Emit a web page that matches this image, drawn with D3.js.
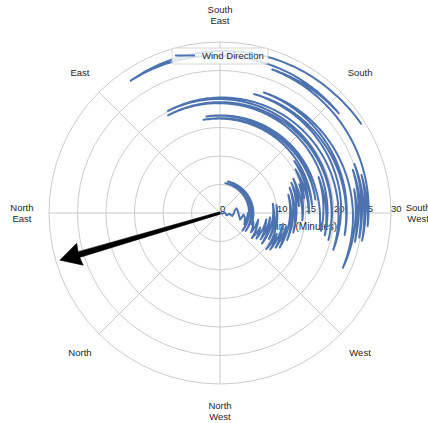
<!DOCTYPE html>
<html>
<head>
<meta charset="utf-8">
<script src="https://cdn.jsdelivr.net/npm/d3@7"></script>
<style>
  body { margin: 0; background: #fff; }
  svg { display: block; font-family: "Liberation Sans", Arial, sans-serif; }
</style>
</head>
<body>
<div id="chart"></div>
<script>
// time since start (minutes) -> radius, wind direction (polar angle in degrees) -> angle
const times = [
  0.0, 0.4, 0.8, 1.2, 1.6, 2.2, 2.6, 3.0, 3.3, 3.7, 4.1, 4.4, 4.7, 4.9,
  5.0, 5.3, 5.5, 5.7, 5.9,
  6.1, 6.4, 6.8, 7.1, 7.5, 7.8, 8.2, 8.5, 8.8, 9.1, 9.4, 9.7, 10.0, 10.3, 10.6,
  10.9, 11.2, 11.5, 11.8, 12.1, 12.4, 12.7, 13.0, 13.3, 13.6, 13.9, 14.2, 14.5, 14.8, 15.0,
  15.3, 15.6, 15.9, 16.2, 16.6, 16.9, 17.1, 17.3,
  17.6, 18.0, 18.4, 18.8, 19.4, 19.6, 20.1, 20.9, 21.3, 21.7, 22.2, 22.5, 23.6,
  23.9, 24.2, 24.5, 24.8, 25.1, 25.4, 25.7, 26.0, 26.3,
  26.8, 27.2, 27.6, 28.0, 28.6, 29.0, 29.3
];
const directions = [
  0, -15, 5, -20, -5, -14, 10, 16, -6, -18, -4, -9, -25, 0,
  -38, 80, -35, 76, -20,
  -15, -32, -10, -38, -20, -35, -8, -33, -5, -36, 10, -28, 8, -38, -20,
  -36, -10, -32, -12, -30, 15, -22, 20, -15, 23, 5, 25, -5, 20, 10,
  30, 0, 35, 5, 100, 8, 98, 15,
  -5, -10, 20, -12, 118, -14, 117, -18, 5, 74, -10, 70, -24,
  10, -12, 18, -10, 20, -11, 15, -5, 20,
  70, 40, 90, 124, 75, 45, 32
];

// arrow (overall wind direction)
const arrowDirection = 196.4;
const arrowLength = 29.3;

const radialTicks = [0, 5, 10, 15, 20, 25, 30];
const angleTicks = [0, 45, 90, 135, 180, 225, 270, 315];
const angleLabels = [
  ["South", "West"], ["South"], ["South", "East"], ["East"],
  ["North", "East"], ["North"], ["North", "West"], ["West"]
];
const seriesName = "Wind Direction";
const radialTitle = "Time (Minutes)";

const width = 428, height = 423;
const cx = 220, cy = 213, R = 171;
const textColor = "#262626", gridColor = "#cccccc", lineColor = "#4c72b0";

const svg = d3.select("#chart").append("svg")
  .attr("width", width)
  .attr("height", height);

const r = d3.scaleLinear().domain([0, 30]).range([0, R]);
const ang = d3.scaleLinear().domain([0, 360]).range([0, 2 * Math.PI]);

const pt = (deg, t) => [cx + r(t) * Math.cos(ang(deg)), cy - r(t) * Math.sin(ang(deg))];

// grid
const grid = svg.append("g").attr("fill", "none").attr("stroke", gridColor).attr("stroke-width", 1);
grid.selectAll("circle")
  .data(radialTicks.filter((d) => d > 0))
  .join("circle")
  .attr("cx", cx).attr("cy", cy)
  .attr("r", (d) => r(d));
grid.selectAll("line")
  .data(angleTicks)
  .join("line")
  .attr("x1", cx).attr("y1", cy)
  .attr("x2", (d) => pt(d, 30)[0])
  .attr("y2", (d) => pt(d, 30)[1]);

// angle labels
const labelR = 34.75; // in minutes, just outside the outer ring
svg.append("g")
  .attr("fill", textColor)
  .attr("font-size", 9.5)
  .attr("text-anchor", "middle")
  .selectAll("text")
  .data(angleTicks)
  .join("text")
  .attr("transform", (d) => `translate(${pt(d, labelR)[0]},${pt(d, labelR)[1]})`)
  .each(function (d, i) {
    const lines = angleLabels[i];
    const sel = d3.select(this);
    lines.forEach((s, k) => {
      sel.append("tspan")
        .attr("x", 0)
        .attr("y", (k - (lines.length - 1) / 2) * 10.5 + 3.4)
        .text(s);
    });
  });

// radial tick labels
svg.append("g")
  .attr("fill", textColor)
  .attr("font-size", 9.5)
  .selectAll("text")
  .data(radialTicks)
  .join("text")
  .attr("x", (d) => pt(0, d)[0])
  .attr("y", cy - 1.5)
  .text((d) => d);

svg.append("text")
  .attr("x", 304)
  .attr("y", 229.5)
  .attr("text-anchor", "middle")
  .attr("font-size", 10)
  .attr("fill", textColor)
  .text(radialTitle);

// data line: segments follow polar interpolation like matplotlib does
const coords = [];
times.forEach((t, i) => {
  if (i === 0) { coords.push(pt(directions[0], t)); return; }
  const t0 = times[i - 1], d0 = directions[i - 1], d1 = directions[i];
  const steps = Math.max(1, Math.ceil(Math.abs(d1 - d0)));
  for (let s = 1; s <= steps; s++) {
    const f = s / steps;
    coords.push(pt(d0 + (d1 - d0) * f, t0 + (t - t0) * f));
  }
});

svg.append("path")
  .attr("d", d3.line()(coords))
  .attr("fill", "none")
  .attr("stroke", lineColor)
  .attr("stroke-width", 2)
  .attr("stroke-linejoin", "round");

// arrow
const tip = pt(arrowDirection, arrowLength);
const ux = (tip[0] - cx) / r(arrowLength), uy = (tip[1] - cy) / r(arrowLength);
const nx = -uy, ny = ux;
const L = r(arrowLength), headLen = 20, headHalf = 11.5;
const at = (a, w) => [cx + ux * a + nx * w, cy + uy * a + ny * w];
const arrowPts = [
  at(0, 1.2), at(L - headLen, 3), at(L - headLen - 1, headHalf), tip,
  at(L - headLen - 1, -headHalf), at(L - headLen, -3), at(0, -1.2)
];
svg.append("path")
  .attr("d", d3.line()(arrowPts) + "Z")
  .attr("fill", "#000")
  .attr("stroke", "#000")
  .attr("stroke-width", 0.5);

// legend
const legend = svg.append("g");
legend.append("rect")
  .attr("x", 172).attr("y", 48)
  .attr("width", 96).attr("height", 16)
  .attr("rx", 2)
  .attr("fill", "#fff").attr("fill-opacity", 0.8)
  .attr("stroke", gridColor).attr("stroke-width", 0.8);
legend.append("line")
  .attr("x1", 175).attr("x2", 195)
  .attr("y1", 55.5).attr("y2", 55.5)
  .attr("stroke", lineColor).attr("stroke-width", 2);
legend.append("text")
  .attr("x", 202).attr("y", 59)
  .attr("font-size", 9.5)
  .attr("fill", textColor)
  .text(seriesName);
</script>
</body>
</html>
